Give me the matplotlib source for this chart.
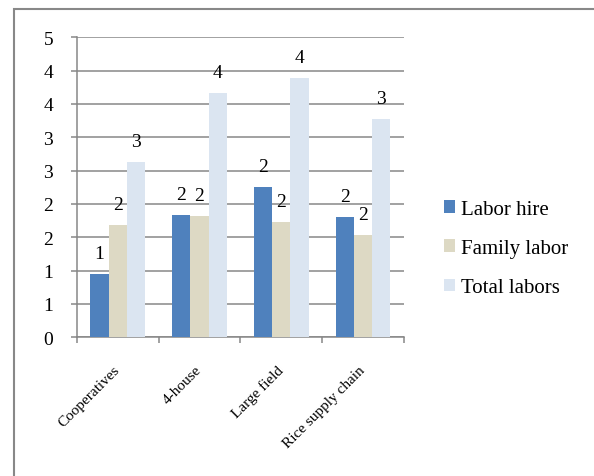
import numpy as np
import matplotlib
matplotlib.use("Agg")
import matplotlib.pyplot as plt
from matplotlib.patches import Rectangle
from matplotlib.ticker import FixedLocator, FuncFormatter

categories = ["Cooperatives", "4-house", "Large field", "Rice supply chain"]
series_names = ["Labor hire", "Family labor", "Total labors"]
labor_hire = [0.95, 1.83, 2.26, 1.81]
family_labor = [1.68, 1.82, 1.73, 1.53]
total_labors = [2.63, 3.67, 3.89, 3.28]
colors = ["#4F81BD", "#DDD9C4", "#DBE5F1"]

def half_up(v):
    return str(int(np.floor(v + 0.5 + 1e-9)))

plt.rcParams['font.family'] = ['Liberation Serif', 'DejaVu Serif']

fig = plt.figure(figsize=(5.94, 4.77), dpi=100)
# outer frame
fig.patches.append(Rectangle((14/594, -0.1), 1.2, (477-10)/477 + 0.1,
                             transform=fig.transFigure, fill=False,
                             edgecolor="#888888", linewidth=1.5))

ax = fig.add_axes([76.7/594, (477-338.3)/477, (404-76.7)/594, 300/477])

n = len(categories)
x = np.arange(n)
w = 0.222
data = [labor_hire, family_labor, total_labors]
for i, (vals, name, c) in enumerate(zip(data, series_names, colors)):
    bars = ax.bar(x + (i - 1) * w, vals, width=w, color=c, label=name, zorder=3)
    for b, v in zip(bars, vals):
        ax.annotate(half_up(v), (b.get_x() + b.get_width() / 2, v),
                    xytext=(0, 16), textcoords="offset pixels",
                    ha="center", va="baseline", fontsize=14, zorder=4)

ax.set_xlim(-0.5, n - 0.5)
ax.set_ylim(0, 4.5)
yt = np.arange(0, 4.51, 0.5)
ax.yaxis.set_major_locator(FixedLocator(yt))
ax.yaxis.set_major_formatter(FuncFormatter(lambda v, p: half_up(v)))
ax.grid(axis="y", color="#878787", linewidth=1.1, zorder=0)
ax.tick_params(axis="y", length=4, width=1.1, color="#878787", pad=13, labelsize=14)

ax.set_xticks(x)
ax.set_xticklabels(categories, rotation=45, ha="right", va="center",
                   rotation_mode="anchor", fontsize=11)
ax.set_xticks(np.arange(-0.5, n, 1.0), minor=True)
ax.tick_params(axis="x", which="major", length=0, pad=22)
ax.tick_params(axis="x", which="minor", length=4, width=1.1, color="#878787")

for s in ["top", "right"]:
    ax.spines[s].set_visible(False)
for s in ["left", "bottom"]:
    ax.spines[s].set_color("#878787")
    ax.spines[s].set_linewidth(1.1)

leg = fig.legend(loc="center left", bbox_to_anchor=(425/594, (477-249.5)/477),
                 frameon=False, fontsize=15, handlelength=0.55, handleheight=0.55,
                 handletextpad=0.3, labelspacing=0.97)

fig.savefig("out.png", dpi=100)
